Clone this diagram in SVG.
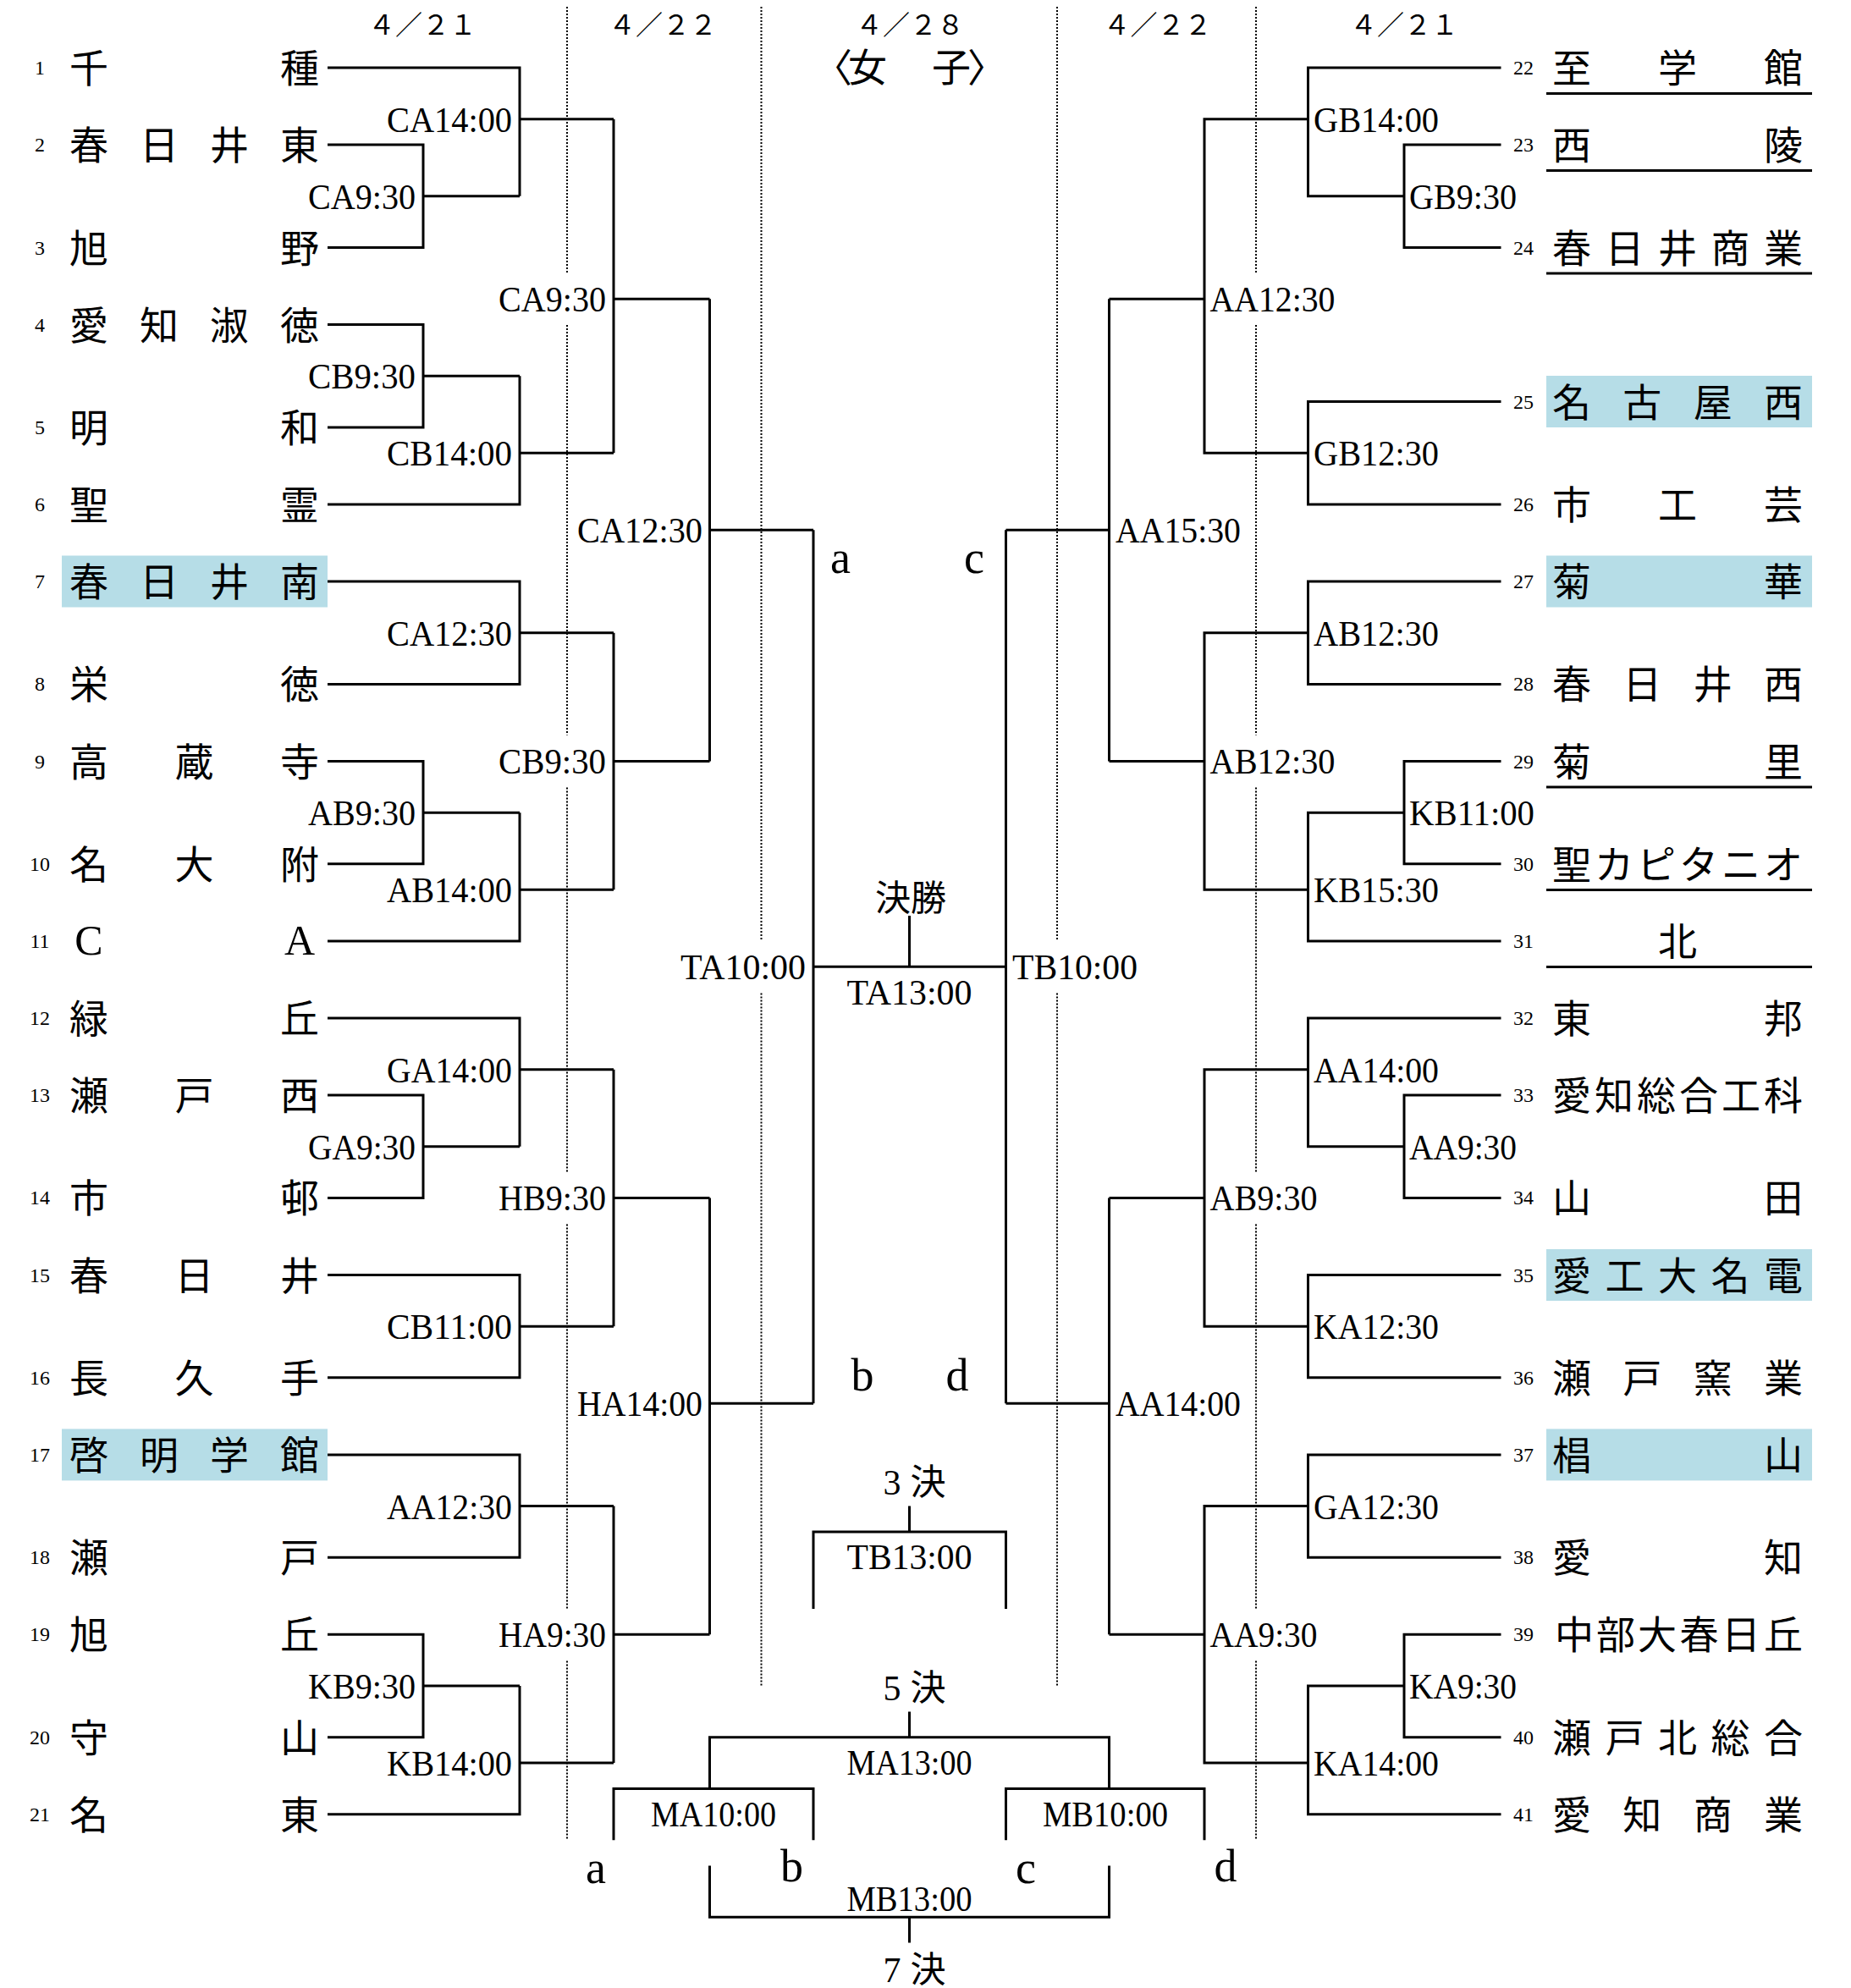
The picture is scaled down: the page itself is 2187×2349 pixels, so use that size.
<svg xmlns="http://www.w3.org/2000/svg" width="2187" height="2349" viewBox="0 0 2187 2349">
<style>
.ln{fill:none;stroke:#000;stroke-width:3}
.dot{fill:none;stroke:#000;stroke-width:2;stroke-dasharray:2 2}
.ul{stroke:#000;stroke-width:3}
.hl{fill:#b6dde7}
.nm{font-family:'Liberation Serif','Noto Sans CJK JP',serif;font-size:46px;text-anchor:middle;fill:#000}
.ca{font-family:'Liberation Serif',serif;font-size:50px;text-anchor:middle;fill:#000}
.no{font-family:'Liberation Serif',serif;font-size:24px;text-anchor:middle;fill:#000}
.lb{font-family:'Liberation Serif',serif;font-size:42px;fill:#000}
.e{text-anchor:end}.s{text-anchor:start}.m{text-anchor:middle}
.lt{font-family:'Liberation Serif',serif;font-size:54px;text-anchor:middle;fill:#000}
.dt{font-family:'Liberation Serif','Noto Sans CJK JP',serif;font-size:32px;text-anchor:middle;fill:#000}
.jp{font-family:'Liberation Serif','Noto Sans CJK JP',serif;font-size:42px;text-anchor:middle;fill:#000}
</style>
<rect width="2187" height="2349" fill="#fff"/>

<g id="headers">
<text class="dt" x="499" y="41">４／２１</text>
<text class="dt" x="783" y="41">４／２２</text>
<text class="dt" x="1075" y="41">４／２８</text>
<text class="dt" x="1367.5" y="41">４／２２</text>
<text class="dt" x="1659" y="41">４／２１</text>
<text class="jp" style="font-size:46px" x="984 1025 1074.5 1124 1166" y="96">〈女　子〉</text>
</g>

<g id="dotted">
<path class="dot" d="M670,8V322M670,384V868.5M670,930.5V1384.5M670,1446.5V1900.5M670,1962.5V2173"/>
<path class="dot" d="M1484,8V322M1484,384V868.5M1484,930.5V1384.5M1484,1446.5V1900.5M1484,1962.5V2173"/>
<path class="dot" d="M899.5,8V1111M899.5,1173.5V1992"/>
<path class="dot" d="M1249,8V1111M1249,1173.5V1992"/>
</g>

<g id="connectors">
<!-- left round 1 -->
<path class="ln" d="M387,171.05H500V292.45H387M500,231.75H614"/>
<path class="ln" d="M387,80H614V231.75M614,140.7H725"/>
<path class="ln" d="M387,383.5H500V504.9H387M500,444.2H614"/>
<path class="ln" d="M614,444.2V595.95H387M614,535.25H725"/>
<path class="ln" d="M387,687H614V808.4H387M614,747.7H725"/>
<path class="ln" d="M387,899.45H500V1020.85H387M500,960.15H614"/>
<path class="ln" d="M614,960.15V1111.9H387M614,1051.2H725"/>
<path class="ln" d="M387,1294H500V1415.4H387M500,1354.7H614"/>
<path class="ln" d="M387,1202.95H614V1354.7M614,1263.65H725"/>
<path class="ln" d="M387,1506.45H614V1627.85H387M614,1567.15H725"/>
<path class="ln" d="M387,1718.9H614V1840.3H387M614,1779.6H725"/>
<path class="ln" d="M387,1931.35H500V2052.75H387M500,1992.05H614"/>
<path class="ln" d="M614,1992.05V2143.8H387M614,2083.1H725"/>
<!-- left round 2 -->
<path class="ln" d="M725,140.7V535.25M725,353.15H838.5"/>
<path class="ln" d="M725,747.7V1051.2M725,899.45H838.5"/>
<path class="ln" d="M725,1263.65V1567.15M725,1415.4H838.5"/>
<path class="ln" d="M725,1779.6V2083.1M725,1931.35H838.5"/>
<!-- left round 3 -->
<path class="ln" d="M838.5,353.15V899.45M838.5,626.3H961"/>
<path class="ln" d="M838.5,1415.4V1931.35M838.5,1658.2H961"/>
<!-- semifinals and final -->
<path class="ln" d="M961,626.3V1658.2"/>
<path class="ln" d="M1188.5,626.3V1658.2"/>
<path class="ln" d="M961,1142.25H1188.5M1074.5,1082V1142.25"/>
<!-- right round 3 -->
<path class="ln" d="M1188.5,626.3H1310.5M1310.5,353.15V899.45M1310.5,353.15H1423M1310.5,899.45H1423"/>
<path class="ln" d="M1188.5,1658.2H1310.5M1310.5,1415.4V1931.35M1310.5,1415.4H1423M1310.5,1931.35H1423"/>
<!-- right round 2 -->
<path class="ln" d="M1545.5,140.7H1423V535.25H1545.5"/>
<path class="ln" d="M1545.5,747.7H1423V1051.2H1545.5"/>
<path class="ln" d="M1545.5,1263.65H1423V1567.15H1545.5"/>
<path class="ln" d="M1545.5,1779.6H1423V2083.1H1545.5"/>
<!-- right round 1 -->
<path class="ln" d="M1773.5,80H1545.5V231.75H1659"/>
<path class="ln" d="M1773.5,171.05H1659V292.45H1773.5"/>
<path class="ln" d="M1773.5,474.55H1545.5V595.95H1773.5"/>
<path class="ln" d="M1773.5,687H1545.5V808.4H1773.5"/>
<path class="ln" d="M1773.5,899.45H1659V1020.85H1773.5"/>
<path class="ln" d="M1659,960.15H1545.5V1111.9H1773.5"/>
<path class="ln" d="M1773.5,1202.95H1545.5V1354.7H1659"/>
<path class="ln" d="M1773.5,1294H1659V1415.4H1773.5"/>
<path class="ln" d="M1773.5,1506.45H1545.5V1627.85H1773.5"/>
<path class="ln" d="M1773.5,1718.9H1545.5V1840.3H1773.5"/>
<path class="ln" d="M1773.5,1931.35H1659V2052.75H1773.5"/>
<path class="ln" d="M1659,1992.05H1545.5V2143.8H1773.5"/>
<!-- placing brackets -->
<path class="ln" d="M1074.5,1779.6V1809.95M961,1901V1809.95H1188.5V1901"/>
<path class="ln" d="M1074.5,2022.4V2052.75M838.5,2113.45V2052.75H1310.5V2113.45"/>
<path class="ln" d="M725,2174.15V2113.45H961V2174.15"/>
<path class="ln" d="M1188.5,2174.15V2113.45H1423V2174.15"/>
<path class="ln" d="M838.5,2204.5V2265.2H1310.5V2204.5M1074.5,2265.2V2295.55"/>
</g>

<g id="match-labels">
<text class="lb e" textLength="148" lengthAdjust="spacingAndGlyphs" x="605" y="155.7">CA14:00</text>
<text class="lb e" textLength="127" lengthAdjust="spacingAndGlyphs" x="491" y="246.75">CA9:30</text>
<text class="lb e" textLength="127" lengthAdjust="spacingAndGlyphs" x="491" y="459.2">CB9:30</text>
<text class="lb e" textLength="148" lengthAdjust="spacingAndGlyphs" x="605" y="550.25">CB14:00</text>
<text class="lb e" textLength="148" lengthAdjust="spacingAndGlyphs" x="605" y="762.7">CA12:30</text>
<text class="lb e" textLength="127" lengthAdjust="spacingAndGlyphs" x="491" y="975.15">AB9:30</text>
<text class="lb e" textLength="148" lengthAdjust="spacingAndGlyphs" x="605" y="1066.2">AB14:00</text>
<text class="lb e" textLength="148" lengthAdjust="spacingAndGlyphs" x="605" y="1278.65">GA14:00</text>
<text class="lb e" textLength="127" lengthAdjust="spacingAndGlyphs" x="491" y="1369.7">GA9:30</text>
<text class="lb e" textLength="148" lengthAdjust="spacingAndGlyphs" x="605" y="1582.15">CB11:00</text>
<text class="lb e" textLength="148" lengthAdjust="spacingAndGlyphs" x="605" y="1794.6">AA12:30</text>
<text class="lb e" textLength="127" lengthAdjust="spacingAndGlyphs" x="491" y="2007.05">KB9:30</text>
<text class="lb e" textLength="148" lengthAdjust="spacingAndGlyphs" x="605" y="2098.1">KB14:00</text>
<text class="lb e" textLength="127" lengthAdjust="spacingAndGlyphs" x="716" y="368.15">CA9:30</text>
<text class="lb e" textLength="127" lengthAdjust="spacingAndGlyphs" x="716" y="914.45">CB9:30</text>
<text class="lb e" textLength="127" lengthAdjust="spacingAndGlyphs" x="716" y="1430.4">HB9:30</text>
<text class="lb e" textLength="127" lengthAdjust="spacingAndGlyphs" x="716" y="1946.35">HA9:30</text>
<text class="lb e" textLength="148" lengthAdjust="spacingAndGlyphs" x="830" y="641.3">CA12:30</text>
<text class="lb e" textLength="148" lengthAdjust="spacingAndGlyphs" x="830" y="1673.2">HA14:00</text>
<text class="lb e" textLength="148" lengthAdjust="spacingAndGlyphs" x="952" y="1157.25">TA10:00</text>
<text class="lb s" textLength="148" lengthAdjust="spacingAndGlyphs" x="1196" y="1157.25">TB10:00</text>
<text class="lb s" textLength="148" lengthAdjust="spacingAndGlyphs" x="1318" y="641.3">AA15:30</text>
<text class="lb s" textLength="148" lengthAdjust="spacingAndGlyphs" x="1318" y="1673.2">AA14:00</text>
<text class="lb s" textLength="148" lengthAdjust="spacingAndGlyphs" x="1429.5" y="368.15">AA12:30</text>
<text class="lb s" textLength="148" lengthAdjust="spacingAndGlyphs" x="1429.5" y="914.45">AB12:30</text>
<text class="lb s" textLength="127" lengthAdjust="spacingAndGlyphs" x="1429.5" y="1430.4">AB9:30</text>
<text class="lb s" textLength="127" lengthAdjust="spacingAndGlyphs" x="1429.5" y="1946.35">AA9:30</text>
<text class="lb s" textLength="148" lengthAdjust="spacingAndGlyphs" x="1552" y="155.7">GB14:00</text>
<text class="lb s" textLength="148" lengthAdjust="spacingAndGlyphs" x="1552" y="550.25">GB12:30</text>
<text class="lb s" textLength="148" lengthAdjust="spacingAndGlyphs" x="1552" y="762.7">AB12:30</text>
<text class="lb s" textLength="148" lengthAdjust="spacingAndGlyphs" x="1552" y="1066.2">KB15:30</text>
<text class="lb s" textLength="148" lengthAdjust="spacingAndGlyphs" x="1552" y="1278.65">AA14:00</text>
<text class="lb s" textLength="148" lengthAdjust="spacingAndGlyphs" x="1552" y="1582.15">KA12:30</text>
<text class="lb s" textLength="148" lengthAdjust="spacingAndGlyphs" x="1552" y="1794.6">GA12:30</text>
<text class="lb s" textLength="148" lengthAdjust="spacingAndGlyphs" x="1552" y="2098.1">KA14:00</text>
<text class="lb s" textLength="127" lengthAdjust="spacingAndGlyphs" x="1665" y="246.75">GB9:30</text>
<text class="lb s" textLength="148" lengthAdjust="spacingAndGlyphs" x="1665" y="975.15">KB11:00</text>
<text class="lb s" textLength="127" lengthAdjust="spacingAndGlyphs" x="1665" y="1369.7">AA9:30</text>
<text class="lb s" textLength="127" lengthAdjust="spacingAndGlyphs" x="1665" y="2007.05">KA9:30</text>
<text class="lb m" textLength="148" lengthAdjust="spacingAndGlyphs" x="1074.5" y="1187">TA13:00</text>
<text class="lb m" textLength="148" lengthAdjust="spacingAndGlyphs" x="1074.5" y="1854">TB13:00</text>
<text class="lb m" textLength="148" lengthAdjust="spacingAndGlyphs" x="1074.5" y="2097">MA13:00</text>
<text class="lb m" textLength="148" lengthAdjust="spacingAndGlyphs" x="843" y="2158">MA10:00</text>
<text class="lb m" textLength="148" lengthAdjust="spacingAndGlyphs" x="1306" y="2158">MB10:00</text>
<text class="lb m" textLength="148" lengthAdjust="spacingAndGlyphs" x="1074.5" y="2258">MB13:00</text>
</g>

<g id="round-titles">
<text class="jp" x="1076" y="1076">決勝</text>
<text class="jp" x="1054 1096.5" y="1766">3決</text>
<text class="jp" x="1054 1096.5" y="2009">5決</text>
<text class="jp" x="1054 1096.5" y="2342">7決</text>
<text class="lt" x="993" y="677">a</text>
<text class="lt" x="1151" y="677">c</text>
<text class="lt" x="1019" y="1643">b</text>
<text class="lt" x="1131" y="1643">d</text>
<text class="lt" x="704" y="2225">a</text>
<text class="lt" x="935.5" y="2223">b</text>
<text class="lt" x="1212" y="2225">c</text>
<text class="lt" x="1448" y="2223">d</text>
</g>

<g id="team-1"><text class="no" x="47" y="88">1</text><text class="nm" x="105 354" y="97">千種</text></g>
<g id="team-2"><text class="no" x="47" y="179.1">2</text><text class="nm" x="105 188 271 354" y="188.1">春日井東</text></g>
<g id="team-3"><text class="no" x="47" y="300.5">3</text><text class="nm" x="105 354" y="309.5">旭野</text></g>
<g id="team-4"><text class="no" x="47" y="391.5">4</text><text class="nm" x="105 188 271 354" y="400.5">愛知淑徳</text></g>
<g id="team-5"><text class="no" x="47" y="512.9">5</text><text class="nm" x="105 354" y="521.9">明和</text></g>
<g id="team-6"><text class="no" x="47" y="604">6</text><text class="nm" x="105 354" y="613">聖霊</text></g>
<g id="team-7"><rect class="hl" x="73" y="656.5" width="314" height="61"/><text class="no" x="47" y="695">7</text><text class="nm" x="105 188 271 354" y="704">春日井南</text></g>
<g id="team-8"><text class="no" x="47" y="816.4">8</text><text class="nm" x="105 354" y="825.4">栄徳</text></g>
<g id="team-9"><text class="no" x="47" y="907.5">9</text><text class="nm" x="105 229.5 354" y="916.5">高蔵寺</text></g>
<g id="team-10"><text class="no" x="47" y="1028.9">10</text><text class="nm" x="105 229.5 354" y="1037.9">名大附</text></g>
<g id="team-11"><text class="no" x="47" y="1119.9">11</text><text class="ca" x="105 354" y="1128.4">CA</text></g>
<g id="team-12"><text class="no" x="47" y="1211">12</text><text class="nm" x="105 354" y="1220">緑丘</text></g>
<g id="team-13"><text class="no" x="47" y="1302">13</text><text class="nm" x="105 229.5 354" y="1311">瀬戸西</text></g>
<g id="team-14"><text class="no" x="47" y="1423.4">14</text><text class="nm" x="105 354" y="1432.4">市邨</text></g>
<g id="team-15"><text class="no" x="47" y="1514.5">15</text><text class="nm" x="105 229.5 354" y="1523.5">春日井</text></g>
<g id="team-16"><text class="no" x="47" y="1635.9">16</text><text class="nm" x="105 229.5 354" y="1644.9">長久手</text></g>
<g id="team-17"><rect class="hl" x="73" y="1688.4" width="314" height="61"/><text class="no" x="47" y="1726.9">17</text><text class="nm" x="105 188 271 354" y="1735.9">啓明学館</text></g>
<g id="team-18"><text class="no" x="47" y="1848.3">18</text><text class="nm" x="105 354" y="1857.3">瀬戸</text></g>
<g id="team-19"><text class="no" x="47" y="1939.4">19</text><text class="nm" x="105 354" y="1948.4">旭丘</text></g>
<g id="team-20"><text class="no" x="47" y="2060.8">20</text><text class="nm" x="105 354" y="2069.8">守山</text></g>
<g id="team-21"><text class="no" x="47" y="2151.8">21</text><text class="nm" x="105 354" y="2160.8">名東</text></g>

<g id="team-22"><text class="no" x="1800" y="88">22</text><text class="nm" x="1857 1982 2107" y="97">至学館</text><line class="ul" x1="1827" y1="110.5" x2="2141" y2="110.5"/></g>
<g id="team-23"><text class="no" x="1800" y="179.1">23</text><text class="nm" x="1857 2107" y="188.1">西陵</text><line class="ul" x1="1827" y1="201.5" x2="2141" y2="201.5"/></g>
<g id="team-24"><text class="no" x="1800" y="300.5">24</text><text class="nm" x="1857 1919.5 1982 2044.5 2107" y="309.5">春日井商業</text><line class="ul" x1="1827" y1="323" x2="2141" y2="323"/></g>
<g id="team-25"><rect class="hl" x="1827" y="444" width="314" height="61"/><text class="no" x="1800" y="482.6">25</text><text class="nm" x="1857 1940.3 2023.7 2107" y="491.6">名古屋西</text></g>
<g id="team-26"><text class="no" x="1800" y="604">26</text><text class="nm" x="1857 1982 2107" y="613">市工芸</text></g>
<g id="team-27"><rect class="hl" x="1827" y="656.5" width="314" height="61"/><text class="no" x="1800" y="695">27</text><text class="nm" x="1857 2107" y="704">菊華</text></g>
<g id="team-28"><text class="no" x="1800" y="816.4">28</text><text class="nm" x="1857 1940.3 2023.7 2107" y="825.4">春日井西</text></g>
<g id="team-29"><text class="no" x="1800" y="907.5">29</text><text class="nm" x="1857 2107" y="916.5">菊里</text><line class="ul" x1="1827" y1="930" x2="2141" y2="930"/></g>
<g id="team-30"><text class="no" x="1800" y="1028.9">30</text><text class="nm" x="1857 1907 1957 2007 2057 2107" y="1037.9">聖カピタニオ</text><line class="ul" x1="1827" y1="1051.4" x2="2141" y2="1051.4"/></g>
<g id="team-31"><text class="no" x="1800" y="1119.9">31</text><text class="nm" x="1982" y="1128.9">北</text><line class="ul" x1="1827" y1="1142.4" x2="2141" y2="1142.4"/></g>
<g id="team-32"><text class="no" x="1800" y="1211">32</text><text class="nm" x="1857 2107" y="1220">東邦</text></g>
<g id="team-33"><text class="no" x="1800" y="1302">33</text><text class="nm" x="1857 1907 1957 2007 2057 2107" y="1311">愛知総合工科</text></g>
<g id="team-34"><text class="no" x="1800" y="1423.4">34</text><text class="nm" x="1857 2107" y="1432.4">山田</text></g>
<g id="team-35"><rect class="hl" x="1827" y="1476" width="314" height="61"/><text class="no" x="1800" y="1514.5">35</text><text class="nm" x="1857 1919.5 1982 2044.5 2107" y="1523.5">愛工大名電</text></g>
<g id="team-36"><text class="no" x="1800" y="1635.9">36</text><text class="nm" x="1857 1940.3 2023.7 2107" y="1644.9">瀬戸窯業</text></g>
<g id="team-37"><rect class="hl" x="1827" y="1688.4" width="314" height="61"/><text class="no" x="1800" y="1726.9">37</text><text class="nm" x="1857 2107" y="1735.9">椙山</text></g>
<g id="team-38"><text class="no" x="1800" y="1848.3">38</text><text class="nm" x="1857 2107" y="1857.3">愛知</text></g>
<g id="team-39"><text class="no" x="1800" y="1939.4">39</text><text class="nm" x="1860 1909 1958 2007.5 2057 2107" y="1948.4">中部大春日丘</text></g>
<g id="team-40"><text class="no" x="1800" y="2060.8">40</text><text class="nm" x="1857 1919.5 1982 2044.5 2107" y="2069.8">瀬戸北総合</text></g>
<g id="team-41"><text class="no" x="1800" y="2151.8">41</text><text class="nm" x="1857 1940.3 2023.7 2107" y="2160.8">愛知商業</text></g>
</svg>
